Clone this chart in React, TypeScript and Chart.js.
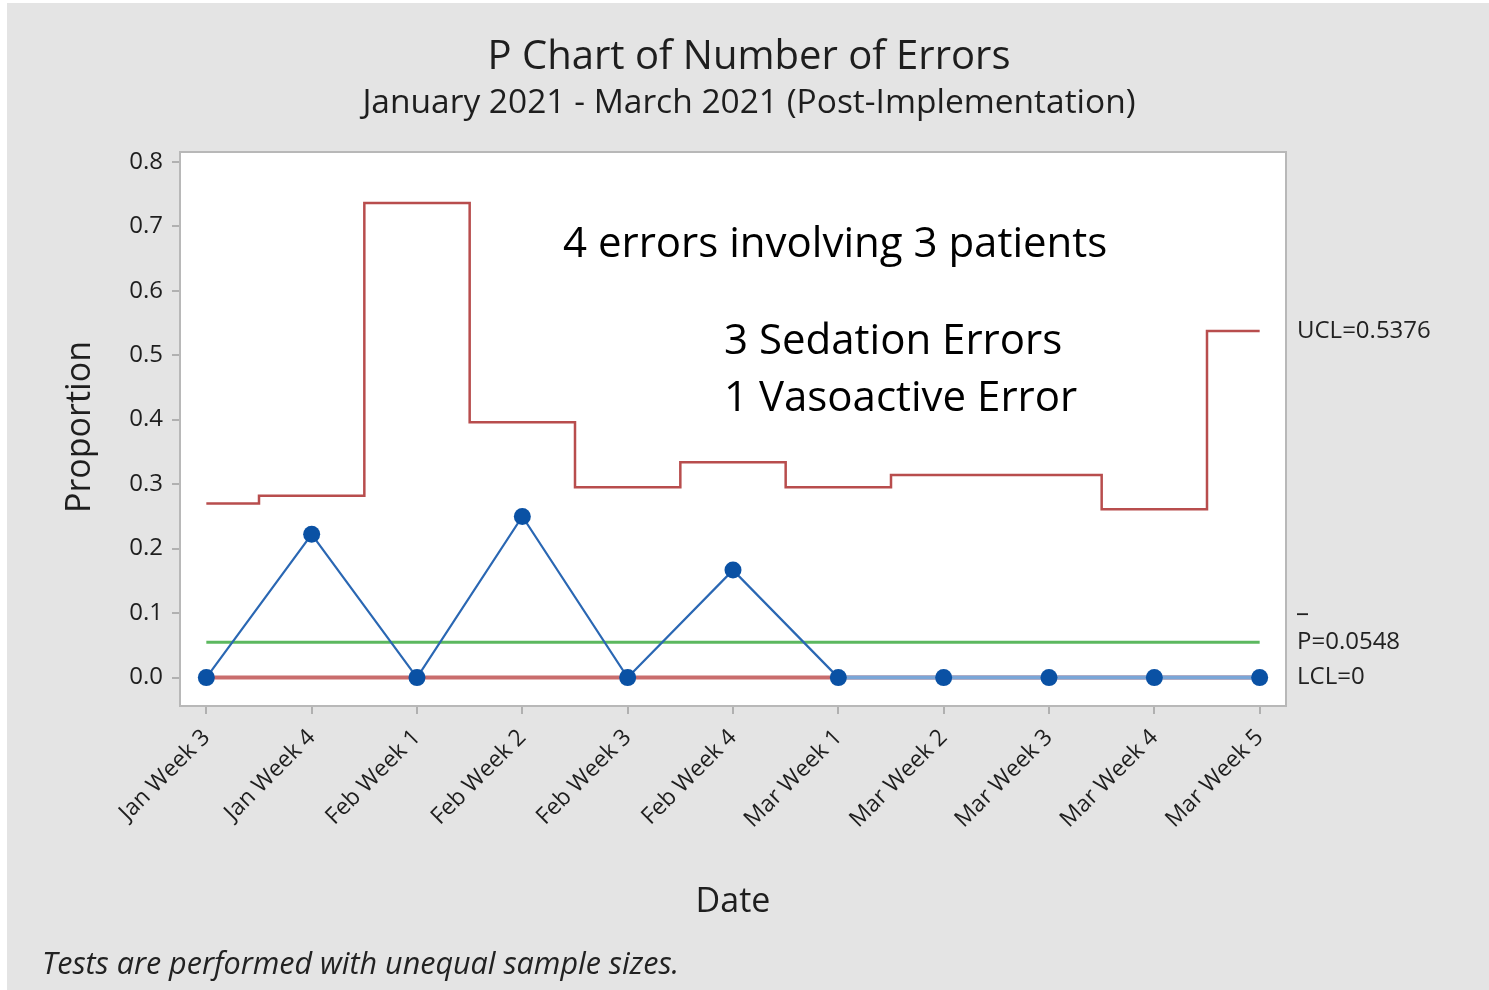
import React, { useEffect, useRef } from "react";
import { Chart, registerables } from "chart.js";

Chart.register(...registerables);

const categories = [
  "Jan Week 3", "Jan Week 4", "Feb Week 1", "Feb Week 2", "Feb Week 3", "Feb Week 4",
  "Mar Week 1", "Mar Week 2", "Mar Week 3", "Mar Week 4", "Mar Week 5",
];
const proportions = [0, 0.2222, 0, 0.25, 0, 0.1667, 0, 0, 0, 0, 0];
const uclValues = [0.27, 0.282, 0.736, 0.396, 0.295, 0.334, 0.295, 0.314, 0.314, 0.261, 0.5376];
const centerValue = 0.0548;
const lclValue = 0;
const yTickValues = [0, 0.1, 0.2, 0.3, 0.4, 0.5, 0.6, 0.7, 0.8];
const titleText = "P Chart of Number of Errors";
const subtitleText = "January 2021 - March 2021 (Post-Implementation)";
const xTitle = "Date";
const yTitle = "Proportion";
const noteText = "Tests are performed with unequal sample sizes.";
const annotationMain = "4 errors involving 3 patients";
const annotationLines = ["3 Sedation Errors", "1 Vasoactive Error"];

const FONT = "'Open Sans', 'Noto Sans', sans-serif";

const decorPlugin = {
  id: "decor",
  beforeDraw(chart: any) {
    const { ctx, chartArea: a } = chart;
    ctx.save();
    ctx.fillStyle = "#ffffff";
    ctx.fillRect(0, 0, chart.width, chart.height);
    ctx.fillStyle = "#e4e4e4";
    ctx.fillRect(7, 3, chart.width - 7, chart.height - 3);
    ctx.fillStyle = "#ffffff";
    ctx.fillRect(a.left, a.top, a.right - a.left, a.bottom - a.top);
    ctx.restore();
  },
  beforeDatasetsDraw(chart: any) {
    const { ctx, chartArea: a } = chart;
    ctx.save();
    ctx.strokeStyle = "#b8b8b8";
    ctx.lineWidth = 2;
    ctx.strokeRect(a.left, a.top, a.right - a.left, a.bottom - a.top);
    ctx.restore();
  },
  afterDraw(chart: any) {
    const { ctx, chartArea: a, scales } = chart;
    const ys = scales.y;
    ctx.save();
    ctx.fillStyle = "#1e1e1e";
    ctx.textBaseline = "middle";
    // titles
    ctx.textAlign = "center";
    ctx.font = `500 40px ${FONT}`;
    ctx.fillText(titleText, 749, 58);
    ctx.font = `500 33.5px ${FONT}`;
    ctx.fillText(subtitleText, 749, 103);
    // axis titles
    ctx.font = `34px ${FONT}`;
    ctx.fillText(xTitle, (a.left + a.right) / 2, 902);
    ctx.save();
    ctx.translate(80, 427);
    ctx.rotate(-Math.PI / 2);
    ctx.fillText(yTitle, 0, 0);
    ctx.restore();
    // annotations
    ctx.fillStyle = "#000000";
    ctx.textAlign = "left";
    ctx.font = `42px ${FONT}`;
    ctx.fillText(annotationMain, 563, 245);
    ctx.fillText(annotationLines[0], 724, 342);
    ctx.fillText(annotationLines[1], 724, 399);
    // right side labels
    ctx.fillStyle = "#222222";
    ctx.font = `24px ${FONT}`;
    const lx = a.right + 11;
    const lastUcl = uclValues[uclValues.length - 1];
    ctx.fillText(`UCL=${lastUcl}`, lx, ys.getPixelForValue(lastUcl));
    const py = ys.getPixelForValue(centerValue);
    ctx.fillText(`P=${centerValue}`, lx, py);
    ctx.fillRect(lx, py - 29, 11, 1.8);
    ctx.fillText(`LCL=${lclValue}`, lx, ys.getPixelForValue(lclValue));
    // note
    ctx.font = `italic 30.5px ${FONT}`;
    ctx.fillText(noteText, 42, 965);
    ctx.restore();
  },
};

export default function App() {
  const ref = useRef<HTMLCanvasElement | null>(null);
  useEffect(() => {
    if (!ref.current) return;
    const xs = categories.map((_, i) => i);
    const chart = new Chart(ref.current, {
      type: "line",
      data: {
        datasets: [
          {
            label: "Proportion",
            data: xs.map((x) => ({ x, y: proportions[x] })),
            borderColor: "#2a67b3",
            borderWidth: 2.2,
            pointRadius: 8.5,
            pointBackgroundColor: "#0a51a4",
            pointBorderWidth: 0,
            segment: {
              borderColor: (c: any) => (c.p0.parsed.y === 0 && c.p1.parsed.y === 0 ? "#7aa6d8" : undefined),
              borderWidth: (c: any) => (c.p0.parsed.y === 0 && c.p1.parsed.y === 0 ? 4 : undefined),
            },
          },
          {
            label: "Center",
            data: xs.map((x) => ({ x, y: centerValue })),
            borderColor: "#5cb85f",
            borderWidth: 3,
            pointRadius: 0,
          },
          {
            label: "UCL",
            data: xs.map((x) => ({ x, y: uclValues[x] })),
            borderColor: "#b84d4d",
            borderWidth: 2.5,
            pointRadius: 0,
            stepped: "middle",
          },
          {
            label: "LCL",
            data: xs.map((x) => ({ x, y: lclValue })),
            borderColor: "#c96d6d",
            borderWidth: 4,
            pointRadius: 0,
          },
        ],
      },
      options: {
        responsive: false,
        animation: false,
        events: [],
        layout: { padding: { left: 100, top: 152, right: 203, bottom: 134 } },
        plugins: { legend: { display: false }, tooltip: { enabled: false } },
        scales: {
          x: {
            type: "linear",
            min: -0.25,
            max: 10.25,
            afterBuildTicks: (axis: any) => {
              axis.ticks = categories.map((_, i) => ({ value: i }));
            },
            afterFit: (axis: any) => {
              axis.height = 150;
            },
            border: { display: false },
            grid: { drawOnChartArea: false, drawTicks: true, tickLength: 8, color: "#b0b0b0", lineWidth: 2 },
            ticks: {
              autoSkip: false,
              minRotation: 45,
              maxRotation: 45,
              padding: 10,
              color: "#1e1e1e",
              font: { family: FONT, size: 23 },
              callback: (v: any) => categories[Math.round(Number(v))] ?? "",
            },
          },
          y: {
            type: "linear",
            min: -0.044,
            max: 0.815,
            afterBuildTicks: (axis: any) => {
              axis.ticks = yTickValues.map((v) => ({ value: v }));
            },
            afterFit: (axis: any) => {
              axis.width = 80;
            },
            border: { display: false },
            grid: { drawOnChartArea: false, drawTicks: true, tickLength: 8, color: "#b0b0b0", lineWidth: 2 },
            ticks: {
              padding: 9,
              color: "#1e1e1e",
              font: { family: FONT, size: 24 },
              callback: (v: any) => Number(v).toFixed(1),
            },
          },
        },
      },
      plugins: [decorPlugin],
    } as any);
    return () => chart.destroy();
  }, []);
  return (
    <div style={{ position: "absolute", left: 0, top: 0, width: 1489, height: 990 }}>
      <canvas ref={ref} width={1489} height={990} style={{ display: "block", width: 1489, height: 990 }} />
    </div>
  );
}
